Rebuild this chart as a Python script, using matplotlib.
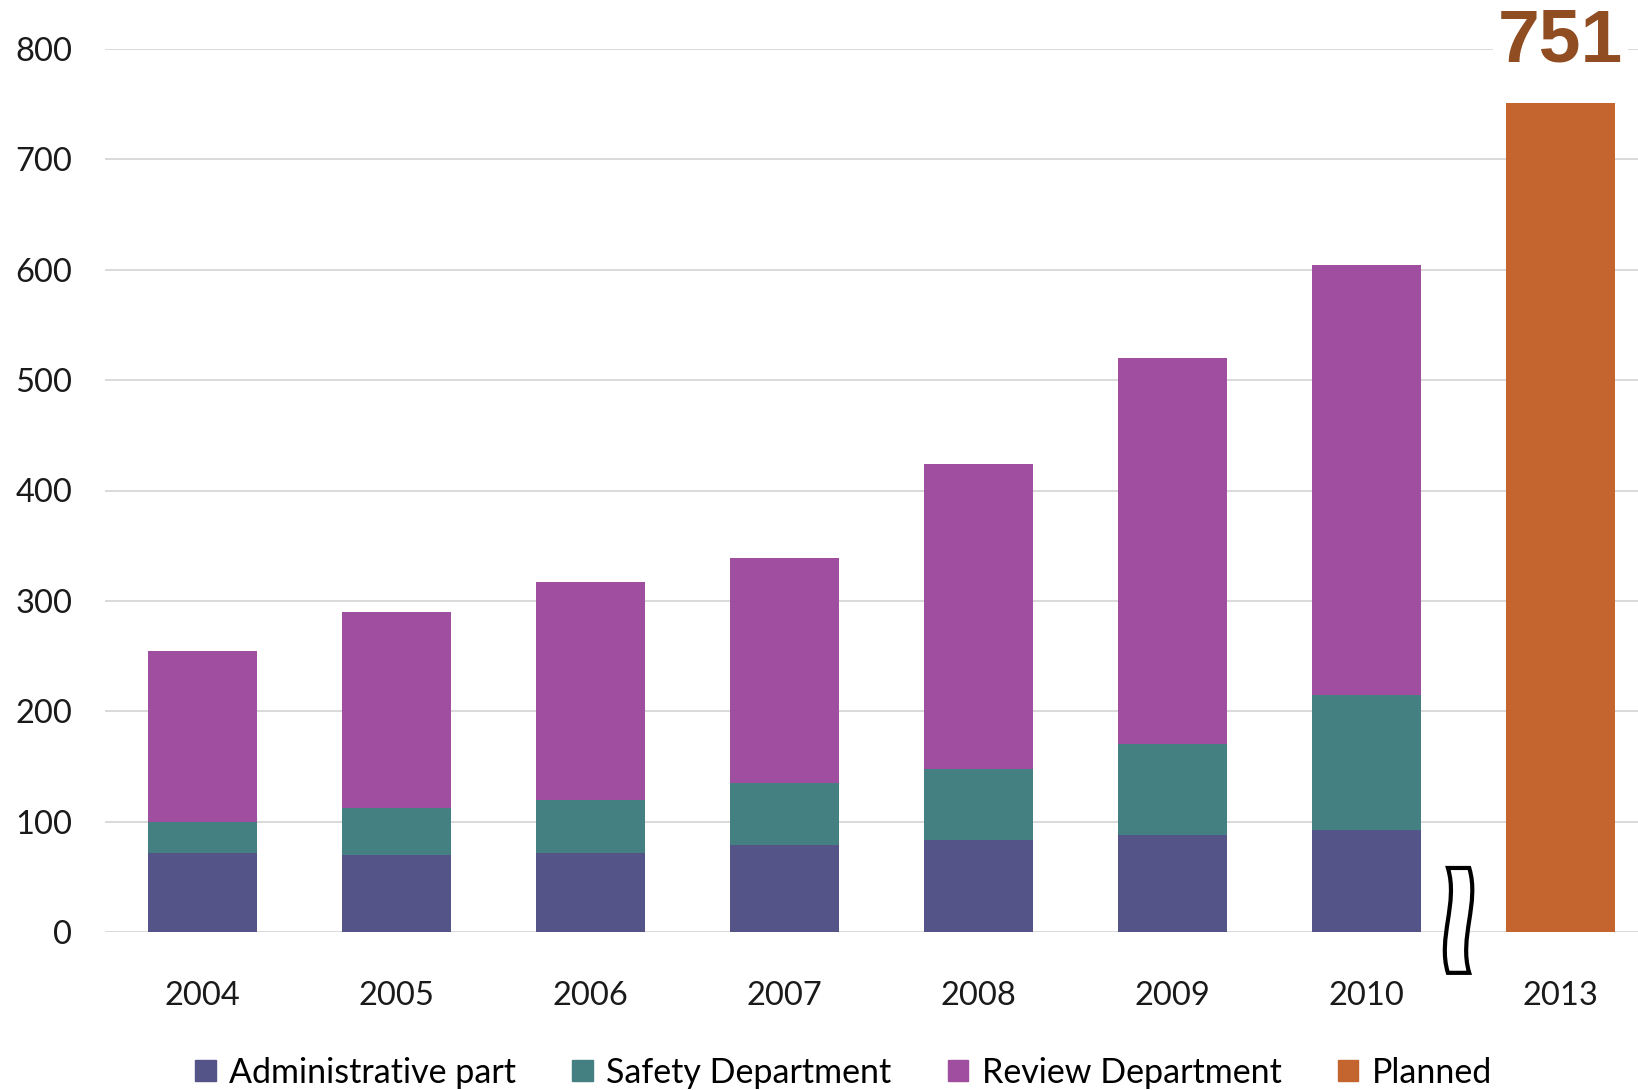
import numpy as np
import matplotlib.pyplot as plt
from matplotlib.path import Path
from matplotlib.patches import PathPatch, Patch

years = ['2004', '2005', '2006', '2007', '2008', '2009', '2010', '2013']
admin = [72, 70, 72, 79, 83, 88, 92]
safety = [28, 42, 48, 56, 65, 82, 123]
review = [155, 178, 197, 204, 276, 350, 389]
planned = 751

C_ADMIN = '#545489'
C_SAFETY = '#447F82'
C_REVIEW = '#A04EA0'
C_PLAN = '#C4652F'

plt.rcParams['font.family'] = ['Lato', 'DejaVu Sans']

fig = plt.figure(figsize=(16.38, 10.9), dpi=100)
ax = fig.add_axes([105.5 / 1638, 1 - 932 / 1090, 1 - 105.5 / 1638, (932 - 49) / 1090])

x = np.arange(len(years))
w = 0.565
a = np.array(admin)
s = np.array(safety)
r = np.array(review)
ax.bar(x[:7], a, w, color=C_ADMIN, zorder=2)
ax.bar(x[:7], s, w, bottom=a, color=C_SAFETY, zorder=2)
ax.bar(x[:7], r, w, bottom=a + s, color=C_REVIEW, zorder=2)
ax.bar(x[7], planned, w, color=C_PLAN, zorder=2)

ax.set_xlim(-0.5, 7.40)
ax.set_ylim(0, 800)
ax.set_yticks(range(0, 801, 100))
ax.set_xticks(x)
ax.set_xticklabels(years)
ax.tick_params(length=0, labelsize=23.5, colors='#1a1a1a')
ax.tick_params(axis='y', pad=24)
ax.tick_params(axis='x', pad=35)
for lab in ax.get_yticklabels():
    lab.set_horizontalalignment('right')
ax.yaxis.grid(True, color='#D0D0D0', linewidth=1.1, zorder=0)
ax.set_axisbelow(True)
for sp in ax.spines.values():
    sp.set_visible(False)

# big label over planned bar
ax.text(x[7], 806, str(planned), ha='center', va='center', fontsize=54,
        fontweight='bold', family='Liberation Sans', color='#914D22',
        bbox=dict(facecolor='white', edgecolor='none', pad=3), zorder=3,
        clip_on=False)

# axis break symbol
xl, xr = 6.42, 6.53
top, bot = 58, -37
h = top - bot
amp = 0.055
verts = [(xl, top), (xl + amp, top - h / 3), (xl - amp, top - 2 * h / 3), (xl, bot),
         (xr, bot), (xr - amp, top - 2 * h / 3), (xr + amp, top - h / 3), (xr, top),
         (xl, top)]
codes = [Path.MOVETO, Path.CURVE4, Path.CURVE4, Path.CURVE4,
         Path.LINETO, Path.CURVE4, Path.CURVE4, Path.CURVE4,
         Path.CLOSEPOLY]
ax.add_patch(PathPatch(Path(verts, codes), facecolor='white', edgecolor='black',
                       linewidth=3, zorder=4, clip_on=False))

handles = [Patch(color=C_ADMIN, label='Administrative part'),
           Patch(color=C_SAFETY, label='Safety Department'),
           Patch(color=C_REVIEW, label='Review Department'),
           Patch(color=C_PLAN, label='Planned')]
fig.legend(handles=handles, loc='center', bbox_to_anchor=(0.515, 0.016),
           ncol=4, frameon=False, fontsize=24.5, handlelength=0.6, handleheight=0.6,
           handletextpad=0.4, columnspacing=1.65, borderpad=0)

fig.savefig('out.png', dpi=100)
